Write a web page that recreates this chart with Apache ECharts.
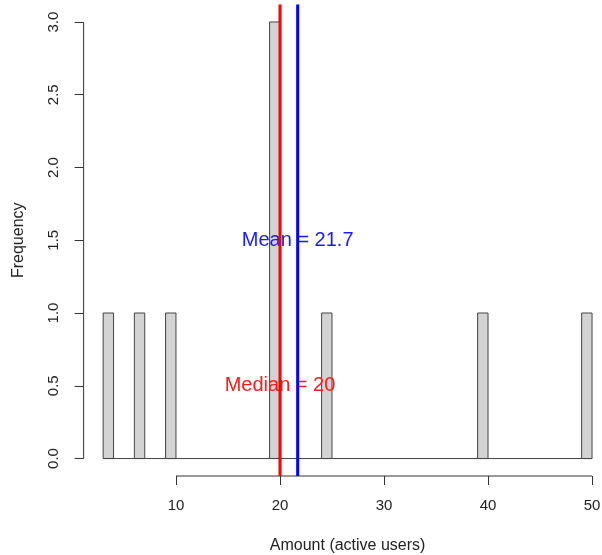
<!DOCTYPE html>
<html>
<head>
<meta charset="utf-8">
<script src="https://cdn.jsdelivr.net/npm/echarts@6/dist/echarts.min.js"></script>
<style>
  html, body { margin: 0; padding: 0; background: #ffffff; }
  #chart { width: 602px; height: 555px; }
</style>
</head>
<body>
<div id="chart"></div>
<script>
// Histogram of active users, one-unit bins
const binStart = [3, 6, 9, 19, 24, 39, 49];
const binCount = [1, 1, 1, 3, 1, 1, 1];
const binWidth = 1;
const histRange = [3, 50];

const xTicks = [10, 20, 30, 40, 50];
const yTicks = [0, 0.5, 1, 1.5, 2, 2.5, 3];

const meanValue = 21.7;
const medianValue = 20;
const meanLabel = 'Mean = 21.7';
const medianLabel = 'Median = 20';
const meanLabelY = 1.5;
const medianLabelY = 0.5;

// plot region padded by 4% on each side, like base R graphics
const xPad = 0.04 * (histRange[1] - histRange[0]);
const xMin = histRange[0] - xPad;
const xMax = histRange[1] + xPad;
const yPad = 0.04 * (yTicks[yTicks.length - 1] - yTicks[0]);
const yMin = yTicks[0] - yPad;
const yMax = yTicks[yTicks.length - 1] + yPad;

const FONT = 'Liberation Sans, Arial, sans-serif';
const INK = '#333333';

const chart = echarts.init(document.getElementById('chart'), null, { renderer: 'canvas' });

const barData = binStart.map((s, i) => [s, s + binWidth, binCount[i]]);

chart.setOption({
  animation: false,
  backgroundColor: '#ffffff',
  grid: {
    left: 83.6, width: 528, top: 4.5, bottom: 79,
    containLabel: false, outerBoundsMode: 'none'
  },
  xAxis: {
    type: 'value',
    min: xMin,
    max: xMax,
    name: 'Amount (active users)',
    nameLocation: 'middle',
    nameGap: 62,
    nameTextStyle: { fontFamily: FONT, fontSize: 16, color: '#222' },
    axisLine: { show: false, onZero: false },
    splitLine: { show: false },
    axisTick: { show: true, length: 9, lineStyle: { color: INK, width: 1 }, customValues: xTicks },
    axisLabel: {
      show: true, margin: 22, fontFamily: FONT, fontSize: 15, color: '#222',
      customValues: xTicks, formatter: v => String(v)
    }
  },
  yAxis: {
    type: 'value',
    min: yMin,
    max: yMax,
    name: 'Frequency',
    nameLocation: 'middle',
    nameRotate: 90,
    nameGap: 57,
    nameTextStyle: { fontFamily: FONT, fontSize: 16, color: '#222' },
    axisLine: { show: false, onZero: false },
    splitLine: { show: false },
    axisTick: { show: true, length: 9, lineStyle: { color: INK, width: 1 }, customValues: yTicks },
    axisLabel: {
      show: true, rotate: 90, margin: 22, fontFamily: FONT, fontSize: 15, color: '#222',
      customValues: yTicks, formatter: v => v.toFixed(1)
    }
  },
  series: [
    {
      // bars plus the zero baseline running across the whole histogram range
      type: 'custom',
      coordinateSystem: 'cartesian2d',
      data: barData,
      encode: { x: [0, 1], y: 2 },
      z: 2,
      renderItem: function (params, api) {
        const lo = api.coord([api.value(0), 0]);
        const hi = api.coord([api.value(1), api.value(2)]);
        const children = [{
          type: 'rect',
          shape: { x: lo[0], y: hi[1], width: hi[0] - lo[0], height: lo[1] - hi[1] },
          style: { fill: '#d3d3d3', stroke: '#444444', lineWidth: 1 }
        }];
        if (params.dataIndex === 0) {
          const a = api.coord([histRange[0], 0]);
          const b = api.coord([histRange[1], 0]);
          children.unshift({
            type: 'line',
            shape: { x1: a[0], y1: a[1], x2: b[0], y2: b[1] },
            style: { stroke: '#444444', lineWidth: 1 }
          });
        }
        return { type: 'group', children: children };
      }
    },
    {
      // axis lines spanning only the tick range
      type: 'custom',
      coordinateSystem: 'cartesian2d',
      data: [[xTicks[0], yTicks[0]]],
      z: 3,
      renderItem: function (params, api) {
        const xa = api.coord([xTicks[0], yMin]);
        const xb = api.coord([xTicks[xTicks.length - 1], yMin]);
        const ya = api.coord([xMin, yTicks[0]]);
        const yb = api.coord([xMin, yTicks[yTicks.length - 1]]);
        return {
          type: 'group',
          children: [
            { type: 'line', shape: { x1: xa[0], y1: xa[1], x2: xb[0], y2: xb[1] }, style: { stroke: INK, lineWidth: 1 } },
            { type: 'line', shape: { x1: ya[0], y1: ya[1], x2: yb[0], y2: yb[1] }, style: { stroke: INK, lineWidth: 1 } }
          ]
        };
      }
    },
    {
      // mean / median annotations
      type: 'custom',
      coordinateSystem: 'cartesian2d',
      data: [
        [meanValue, meanLabelY, 0],
        [medianValue, medianLabelY, 1]
      ],
      z: 4,
      renderItem: function (params, api) {
        const p = api.coord([api.value(0), api.value(1)]);
        const isMedian = api.value(2) === 1;
        return {
          type: 'text',
          x: p[0], y: p[1],
          style: {
            text: isMedian ? medianLabel : meanLabel,
            fill: isMedian ? '#ff1a1a' : '#1a1aff',
            font: '20px ' + FONT,
            align: 'center',
            verticalAlign: 'middle'
          }
        };
      }
    },
    {
      // vertical reference lines for mean and median
      type: 'custom',
      coordinateSystem: 'cartesian2d',
      data: [
        [medianValue, 1],
        [meanValue, 0]
      ],
      z: 5,
      renderItem: function (params, api) {
        const a = api.coord([api.value(0), yMin]);
        const b = api.coord([api.value(0), yMax]);
        return {
          type: 'line',
          shape: { x1: a[0], y1: a[1], x2: b[0], y2: b[1] },
          style: { stroke: api.value(1) === 1 ? '#ff0000' : '#0000ff', lineWidth: 3 }
        };
      }
    }
  ]
});
</script>
</body>
</html>
